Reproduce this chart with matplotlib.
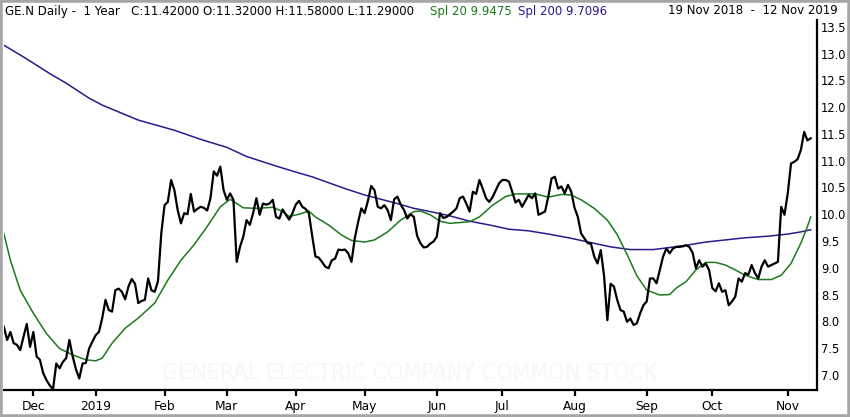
import matplotlib
matplotlib.use("Agg")
import matplotlib.pyplot as plt
import pandas as pd
import numpy as np
from matplotlib.patches import Rectangle

# ---------------- data ----------------
start_date = "2018-11-19"
end_date = "2019-11-12"
holidays = ["2018-11-22", "2018-12-05", "2018-12-25", "2019-01-01", "2019-01-21",
            "2019-02-18", "2019-04-19", "2019-05-27", "2019-07-04", "2019-09-02"]

close = [
    7.90, 7.65, 7.80, 7.59, 7.56, 7.46, 7.71, 7.95, 7.52, 7.80,
    7.34, 7.28, 7.03, 6.90, 6.80, 6.73, 7.21, 7.12, 7.24, 7.31,
    7.65, 7.34, 7.10, 6.93, 7.21, 7.22, 7.49, 7.62, 7.74, 7.80,
    8.06, 8.40, 8.21, 8.18, 8.58, 8.61, 8.55, 8.41, 8.65, 8.79,
    8.70, 8.34, 8.38, 8.40, 8.80, 8.58, 8.55, 8.75, 9.64, 10.17,
    10.23, 10.64, 10.45, 10.08, 9.83, 10.02, 10.00, 10.38, 10.05, 10.10,
    10.14, 10.12, 10.07, 10.30, 10.80, 10.72, 10.89, 10.45, 10.27, 10.39,
    10.27, 9.11, 9.39, 9.58, 9.89, 9.80, 10.02, 10.30, 9.99, 10.20,
    10.18, 10.20, 10.27, 9.95, 9.92, 10.09, 9.99, 9.90, 10.02, 10.18,
    10.25, 10.14, 10.10, 10.02, 9.60, 9.21, 9.19, 9.11, 9.02, 8.99,
    9.14, 9.17, 9.34, 9.33, 9.34, 9.27, 9.11, 9.55, 9.85, 10.11,
    10.02, 10.25, 10.53, 10.45, 10.14, 10.11, 10.17, 10.08, 9.89, 10.28,
    10.33, 10.18, 10.08, 9.92, 10.00, 9.95, 9.60, 9.46, 9.38, 9.39,
    9.45, 9.49, 9.58, 10.02, 9.93, 9.95, 10.00, 10.05, 10.11, 10.30,
    10.33, 10.20, 10.05, 10.42, 10.38, 10.64, 10.48, 10.30, 10.23, 10.32,
    10.45, 10.58, 10.64, 10.64, 10.61, 10.42, 10.22, 10.27, 10.14, 10.25,
    10.36, 10.30, 10.39, 9.99, 10.02, 10.05, 10.33, 10.67, 10.70, 10.48,
    10.52, 10.39, 10.55, 10.42, 10.12, 9.95, 9.64, 9.55, 9.46, 9.45,
    9.21, 9.08, 9.33, 8.85, 8.02, 8.70, 8.65, 8.40, 8.21, 8.18,
    7.99, 8.05, 7.93, 7.96, 8.15, 8.30, 8.37, 8.80, 8.80, 8.71,
    8.96, 9.21, 9.36, 9.27, 9.36, 9.39, 9.39, 9.40, 9.42, 9.39,
    9.28, 8.99, 9.14, 9.02, 9.08, 8.96, 8.62, 8.56, 8.71, 8.55,
    8.58, 8.30, 8.37, 8.46, 8.80, 8.74, 8.90, 8.87, 9.05, 8.90,
    8.80, 9.02, 9.14, 9.02, 9.05, 9.08, 9.11, 10.14, 9.99, 10.39,
    10.95, 10.98, 11.03, 11.20, 11.54, 11.38, 11.42,
]

# smoothed lines, sampled at trading-day numbers (0 = 19 Nov 2018)
spl20_day = [0, 2, 5, 9, 13, 17, 21, 25, 28, 30, 33, 37, 41, 46, 50, 54, 58, 62, 66, 69,
             71, 73, 77, 82, 85, 87, 90, 93, 95, 99, 103, 106, 110, 113, 117, 121, 125, 127,
             130, 133, 136, 142, 145, 149, 153, 156, 162, 166, 170, 173, 176, 180, 184, 187,
             190, 193, 196, 200, 203, 205, 208, 211, 214, 217, 220, 223, 226, 230, 234, 237,
             240, 243, 245, 246]
spl20_val = [9.64, 9.14, 8.58, 8.15, 7.77, 7.49, 7.37, 7.28, 7.26, 7.31, 7.59, 7.87, 8.06,
             8.34, 8.77, 9.14, 9.43, 9.77, 10.14, 10.28, 10.20, 10.12, 10.11, 10.13, 10.05,
             9.96, 10.00, 10.06, 9.95, 9.80, 9.61, 9.51, 9.48, 9.52, 9.67, 9.89, 10.05, 10.06,
             9.99, 9.87, 9.83, 9.86, 9.95, 10.17, 10.33, 10.38, 10.38, 10.32, 10.37, 10.36,
             10.27, 10.11, 9.89, 9.62, 9.25, 8.85, 8.58, 8.49, 8.50, 8.62, 8.74, 8.96, 9.10,
             9.10, 9.05, 8.96, 8.86, 8.78, 8.78, 8.86, 9.08, 9.46, 9.77, 9.95]

spl200_day = [0, 6, 14, 19, 26, 30, 41, 52, 60, 68, 74, 82, 90, 94, 104, 110, 115, 120, 125,
              130, 136, 142, 148, 154, 160, 166, 173, 179, 185, 191, 198, 202, 208, 214, 220,
              226, 233, 239, 243, 246]
spl200_val = [13.16, 12.94, 12.63, 12.45, 12.17, 12.04, 11.76, 11.57, 11.40, 11.25, 11.08,
              10.92, 10.77, 10.70, 10.48, 10.36, 10.28, 10.20, 10.11, 10.05, 9.97, 9.87, 9.80,
              9.72, 9.69, 9.63, 9.55, 9.47, 9.39, 9.34, 9.34, 9.37, 9.42, 9.48, 9.52, 9.56,
              9.59, 9.63, 9.67, 9.71]

y_ticks = [7.0, 7.5, 8.0, 8.5, 9.0, 9.5, 10.0, 10.5, 11.0, 11.5, 12.0, 12.5, 13.0, 13.5]

header_main = "GE.N Daily -  1 Year   C:11.42000 O:11.32000 H:11.58000 L:11.29000"
header_spl20 = "Spl 20 9.9475"
header_spl200 = "Spl 200 9.7096"
header_range = "19 Nov 2018  -  12 Nov 2019"
watermark = "GENERAL ELECTRIC COMPANY COMMON STOCK"

# ---------------- dates / ticks ----------------
dates = pd.bdate_range(start_date, end_date, freq="C", holidays=holidays)
n = len(close)
dates = dates[:n]
x = np.arange(n)
tick_pos, tick_lab = [], []
for i in range(1, n):
    if dates[i].month != dates[i - 1].month:
        tick_pos.append(i)
        tick_lab.append(str(dates[i].year) if dates[i].month == 1 else dates[i].strftime("%b"))

# ---------------- figure ----------------
W, H = 850, 417
fig = plt.figure(figsize=(W / 100, H / 100), dpi=100)
fig.patch.set_facecolor("white")

ax_left, ax_right, ax_top, ax_bot = 3.5, 817, 20, 390
ax = fig.add_axes([ax_left / W, (H - ax_bot) / H, (ax_right - ax_left) / W, (ax_bot - ax_top) / H])
px_per_day = 3.28
ax.set_xlim(-0.1, (ax_right - ax_left) / px_per_day - 0.1)
px_per_unit = 53.5
ax.set_ylim(13.5 - (ax_bot - 27) / px_per_unit, 13.5 + (27 - ax_top) / px_per_unit)

green = "#1b7a1b"
purple = "#2c1a8c"

ax.text(0.5, 0.045, watermark, transform=ax.transAxes, ha="center", va="center",
        fontsize=15, color="#f7f7f7", zorder=0)

ax.plot(spl200_day, spl200_val, color=purple, lw=1.1, zorder=2)
ax.plot(spl20_day, spl20_val, color=green, lw=1.1, zorder=3)
ax.plot(x, close, color="black", lw=1.6, zorder=4, solid_joinstyle="round")

for s in ["top", "left"]:
    ax.spines[s].set_visible(False)
for s in ["bottom", "right"]:
    ax.spines[s].set_linewidth(1.6)
    ax.spines[s].set_color("black")

ax.yaxis.tick_right()
ax.set_yticks(y_ticks)
ax.set_yticklabels([f"{v:.1f}" for v in y_ticks])
ax.tick_params(axis="y", length=0, pad=3, labelsize=8.3)
ax.set_xticks(tick_pos)
ax.set_xticklabels(tick_lab)
ax.tick_params(axis="x", direction="out", length=4, width=1.6, pad=3, labelsize=8.8)

# header texts
def ftxt(px, py, s, color="black", ha="left", size=8.5):
    fig.text(px / W, (H - py) / H, s, ha=ha, va="center", fontsize=size, color=color)

ftxt(5, 11, header_main)
ftxt(430, 11, header_spl20, green)
ftxt(518, 11, header_spl200, purple)
ftxt(838, 11, header_range, ha="right")

fig.add_artist(Rectangle((0, 0), 1, 1, transform=fig.transFigure, fill=False,
                         edgecolor="#a6a6a6", lw=4, zorder=10))

fig.savefig("out.png", dpi=100, facecolor="white")
